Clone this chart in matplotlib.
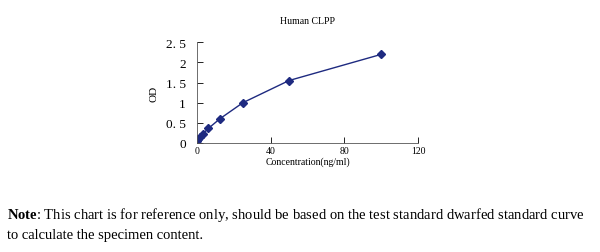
import matplotlib.pyplot as plt

conc = [0, 0.78, 1.56, 3.12, 6.25, 12.5, 25, 50, 100]
od = [0.04, 0.09, 0.14, 0.22, 0.36, 0.6, 1.0, 1.55, 2.2]
x_ticks = [0, 40, 80, 120]
y_ticks = [0, 0.5, 1, 1.5, 2, 2.5]
y_labels = ["0", "0. 5", "1", "1. 5", "2", "2. 5"]

plt.rcParams["font.family"] = ["Liberation Serif", "DejaVu Serif"]
plt.rcParams["mathtext.fontset"] = "custom"
plt.rcParams["mathtext.rm"] = "Liberation Serif"
plt.rcParams["mathtext.bf"] = "Liberation Serif:bold"

fig = plt.figure(figsize=(6, 2.53), dpi=100)
ax = fig.add_axes([0.328, 0.431, 0.369, 0.398])

ax.plot(conc, od, color="#1e2a80", lw=1.0, marker="D", ms=4,
        mfc="#1e2a80", mec="#1e2a80")

ax.set_xlim(0, 120)
ax.set_ylim(0, 2.5)
ax.set_xticks(x_ticks)
ax.set_yticks(y_ticks)
ax.set_yticklabels(y_labels)
ax.tick_params(axis="x", direction="in", labelsize=7, length=4, width=0.6, pad=2)
ax.tick_params(axis="y", direction="in", labelsize=9.5, length=4, width=0.6, pad=8)
for s in ["top", "right"]:
    ax.spines[s].set_visible(False)
for s in ["left", "bottom"]:
    ax.spines[s].set_linewidth(0.6)
    ax.spines[s].set_color("#555555")

ax.set_xlabel("Concentration(ng/ml)", fontsize=7, labelpad=1)
ax.set_ylabel("OD", fontsize=8, labelpad=5)
fig.text(0.512, 0.905, "Human CLPP", fontsize=7, ha="center")

fig.text(0.012, 0.135, r"$\mathbf{Note}$: This chart is for reference only, should be based on the test standard dwarfed standard curve",
         fontsize=10.5)
fig.text(0.012, 0.055, "to calculate the specimen content.", fontsize=10.5)

fig.savefig("out.png", dpi=100)
